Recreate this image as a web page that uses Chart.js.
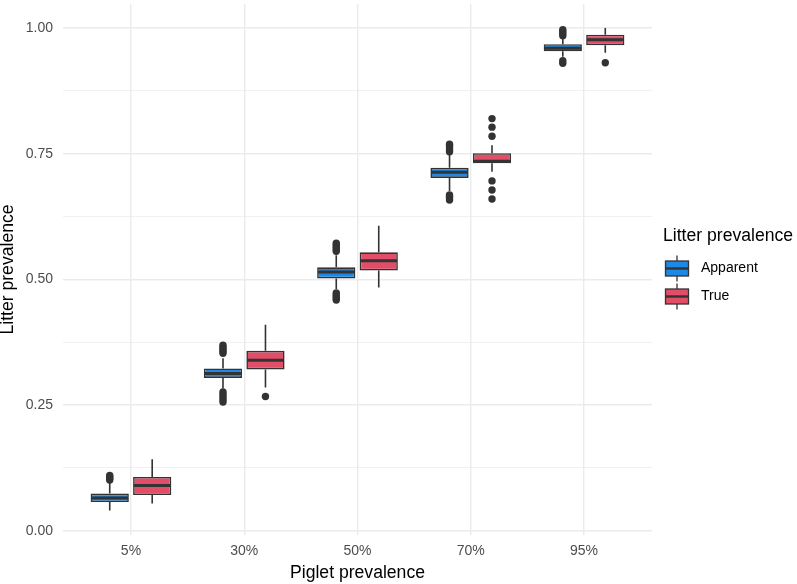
<!DOCTYPE html>
<html>
<head>
<meta charset="utf-8">
<script src="https://cdn.jsdelivr.net/npm/chart.js@4.4.0/dist/chart.umd.min.js"></script>
<style>
    html, body { margin: 0; padding: 0; background: #fff; }
    #wrap { width: 797px; height: 584px; }
</style>
</head>
<body>
<div id="wrap"><canvas id="boxChart"></canvas></div>
<script>
// Piglet prevalence groups on the x axis
const categories = ['5%', '30%', '50%', '70%', '95%'];
const seriesNames = ['Apparent', 'True'];
const yTicks = [0, 0.125, 0.25, 0.375, 0.5, 0.625, 0.75, 0.875, 1];

// Apparent litter prevalence
const apparentLow = [0.040, 0.283, 0.481, 0.676, 0.943];
const apparentQ1 = [0.057, 0.304, 0.502, 0.702, 0.954];
const apparentMedian = [0.065, 0.313, 0.515, 0.713, 0.960];
const apparentQ3 = [0.074, 0.323, 0.524, 0.722, 0.968];
const apparentHigh = [0.095, 0.343, 0.548, 0.748, 0.980];
const apparentOutliers = [
    [0.101, 0.104, 0.107, 0.110],
    [0.353, 0.357, 0.361, 0.365, 0.369, 0.256, 0.261, 0.266, 0.271, 0.276],
    [0.556, 0.560, 0.564, 0.568, 0.572, 0.459, 0.462, 0.466, 0.469, 0.473],
    [0.754, 0.758, 0.762, 0.766, 0.769, 0.658, 0.662, 0.665, 0.668],
    [0.985, 0.989, 0.993, 0.997, 0.930, 0.935]
];

// True litter prevalence
const trueLow = [0.054, 0.285, 0.484, 0.714, 0.951];
const trueQ1 = [0.071, 0.321, 0.518, 0.731, 0.966];
const trueMedian = [0.090, 0.339, 0.537, 0.735, 0.977];
const trueQ3 = [0.107, 0.358, 0.554, 0.751, 0.987];
const trueHigh = [0.142, 0.410, 0.607, 0.767, 1.000];
const trueOutliers = [
    [],
    [0.267],
    [],
    [0.785, 0.803, 0.820, 0.660, 0.678, 0.696],
    [0.931]
];

const colors = ['#1E88E5', '#E24E67'];
const lineColor = '#333333';
const dodge = 0.1875; // half of a dodged slot (0.75 / 4)

Chart.defaults.font.family = "'Liberation Sans', Arial, sans-serif";

const boxStats = [
    { low: apparentLow, q1: apparentQ1, med: apparentMedian, q3: apparentQ3, high: apparentHigh, out: apparentOutliers },
    { low: trueLow, q1: trueQ1, med: trueMedian, q3: trueQ3, high: trueHigh, out: trueOutliers }
];

// boxes as floating bars
const boxDatasets = boxStats.map((s, d) => ({
    type: 'bar',
    label: seriesNames[d],
    data: categories.map((c, i) => ({ x: i + 1, y: [s.q1[i], s.q3[i]] })),
    backgroundColor: colors[d],
    borderColor: lineColor,
    borderWidth: 1.6,
    borderSkipped: false,
    categoryPercentage: 0.75,
    barPercentage: 0.9,
    order: 1
}));

// outliers as scatter points
const outlierDatasets = boxStats.map((s, d) => {
    const pts = [];
    s.out.forEach((vals, i) => {
        vals.forEach(v => pts.push({ x: i + 1 + (d === 0 ? -dodge : dodge), y: v }));
    });
    return {
        type: 'scatter',
        label: seriesNames[d] + ' outliers',
        data: pts,
        pointRadius: 3.7,
        pointBackgroundColor: lineColor,
        pointBorderWidth: 0,
        order: 2
    };
});

// whiskers and medians drawn on the bar elements
const whiskerPlugin = {
    id: 'whiskers',
    afterDatasetsDraw(chart) {
        const ctx = chart.ctx;
        const y = chart.scales.y;
        ctx.save();
        ctx.strokeStyle = lineColor;
        boxStats.forEach((s, d) => {
            const meta = chart.getDatasetMeta(d);
            meta.data.forEach((bar, i) => {
                ctx.lineWidth = 1.6;
                ctx.beginPath();
                ctx.moveTo(bar.x, y.getPixelForValue(s.q3[i]));
                ctx.lineTo(bar.x, y.getPixelForValue(s.high[i]));
                ctx.moveTo(bar.x, y.getPixelForValue(s.q1[i]));
                ctx.lineTo(bar.x, y.getPixelForValue(s.low[i]));
                ctx.stroke();
                ctx.lineWidth = 3;
                const my = y.getPixelForValue(s.med[i]);
                ctx.beginPath();
                ctx.moveTo(bar.x - bar.width / 2 + 0.8, my);
                ctx.lineTo(bar.x + bar.width / 2 - 0.8, my);
                ctx.stroke();
            });
        });
        ctx.restore();
    }
};

// ggplot style legend with mini boxplot keys
const legendPlugin = {
    id: 'boxLegend',
    afterDraw(chart) {
        const ctx = chart.ctx;
        const left = chart.chartArea.right + 11;
        const mid = (chart.chartArea.top + chart.chartArea.bottom) / 2;
        ctx.save();
        ctx.fillStyle = '#000';
        ctx.textBaseline = 'middle';
        ctx.textAlign = 'left';
        ctx.font = "17.6px 'Liberation Sans', Arial, sans-serif";
        ctx.fillText('Litter prevalence', left, mid - 33);
        ctx.font = "14px 'Liberation Sans', Arial, sans-serif";
        seriesNames.forEach((name, d) => {
            const cy = mid - 1 + d * 28;
            const cx = left + 14;
            ctx.strokeStyle = lineColor;
            ctx.lineWidth = 1.3;
            ctx.beginPath();
            ctx.moveTo(cx, cy - 13);
            ctx.lineTo(cx, cy + 13);
            ctx.stroke();
            ctx.fillStyle = colors[d];
            ctx.fillRect(cx - 11.5, cy - 7.5, 23, 15);
            ctx.strokeRect(cx - 11.5, cy - 7.5, 23, 15);
            ctx.lineWidth = 2.4;
            ctx.beginPath();
            ctx.moveTo(cx - 11.5, cy);
            ctx.lineTo(cx + 11.5, cy);
            ctx.stroke();
            ctx.fillStyle = '#000';
            ctx.fillText(name, left + 38, cy);
        });
        ctx.restore();
    }
};

const isMajor = v => Math.abs(v * 4 - Math.round(v * 4)) < 1e-9;

new Chart(document.getElementById('boxChart'), {
    data: { datasets: boxDatasets.concat(outlierDatasets) },
    options: {
        responsive: true,
        maintainAspectRatio: false,
        animation: false,
        layout: { padding: { top: 1, right: 145, bottom: 0, left: 0 } },
        plugins: {
            legend: { display: false },
            tooltip: { enabled: false }
        },
        scales: {
            x: {
                type: 'linear',
                min: 0.4,
                max: 5.6,
                offset: false,
                afterBuildTicks: scale => {
                    scale.ticks = categories.map((c, i) => ({ value: i + 1 }));
                },
                afterFit: scale => {
                    scale.height = 49;
                    scale.paddingLeft = 0;
                    scale.paddingRight = 0;
                },
                ticks: {
                    autoSkip: false,
                    maxRotation: 0,
                    padding: 8,
                    color: '#4D4D4D',
                    font: { size: 14 },
                    callback: v => categories[Math.round(v) - 1]
                },
                grid: { color: '#EBEBEB', lineWidth: 1.4, drawTicks: false, offset: false },
                border: { display: false },
                title: {
                    display: true,
                    text: 'Piglet prevalence',
                    color: '#000',
                    font: { size: 17.6 },
                    padding: { top: 0, bottom: 0 }
                }
            },
            y: {
                min: -0.0085,
                max: 1.048,
                afterBuildTicks: scale => {
                    scale.ticks = yTicks.map(v => ({ value: v }));
                },
                afterFit: scale => {
                    scale.width = 63;
                    scale.paddingTop = 0;
                    scale.paddingBottom = 0;
                },
                ticks: {
                    autoSkip: false,
                    padding: 10,
                    color: '#4D4D4D',
                    font: { size: 14 },
                    callback: v => isMajor(v) ? v.toFixed(2) : ''
                },
                grid: {
                    color: '#EBEBEB',
                    lineWidth: c => (c.tick && isMajor(c.tick.value)) ? 1.4 : 0.7,
                    drawTicks: false
                },
                border: { display: false },
                title: {
                    display: true,
                    text: 'Litter prevalence',
                    color: '#000',
                    font: { size: 17.6 },
                    padding: { top: -2, bottom: 0 }
                }
            }
        }
    },
    plugins: [whiskerPlugin, legendPlugin]
});
</script>
</body>
</html>
